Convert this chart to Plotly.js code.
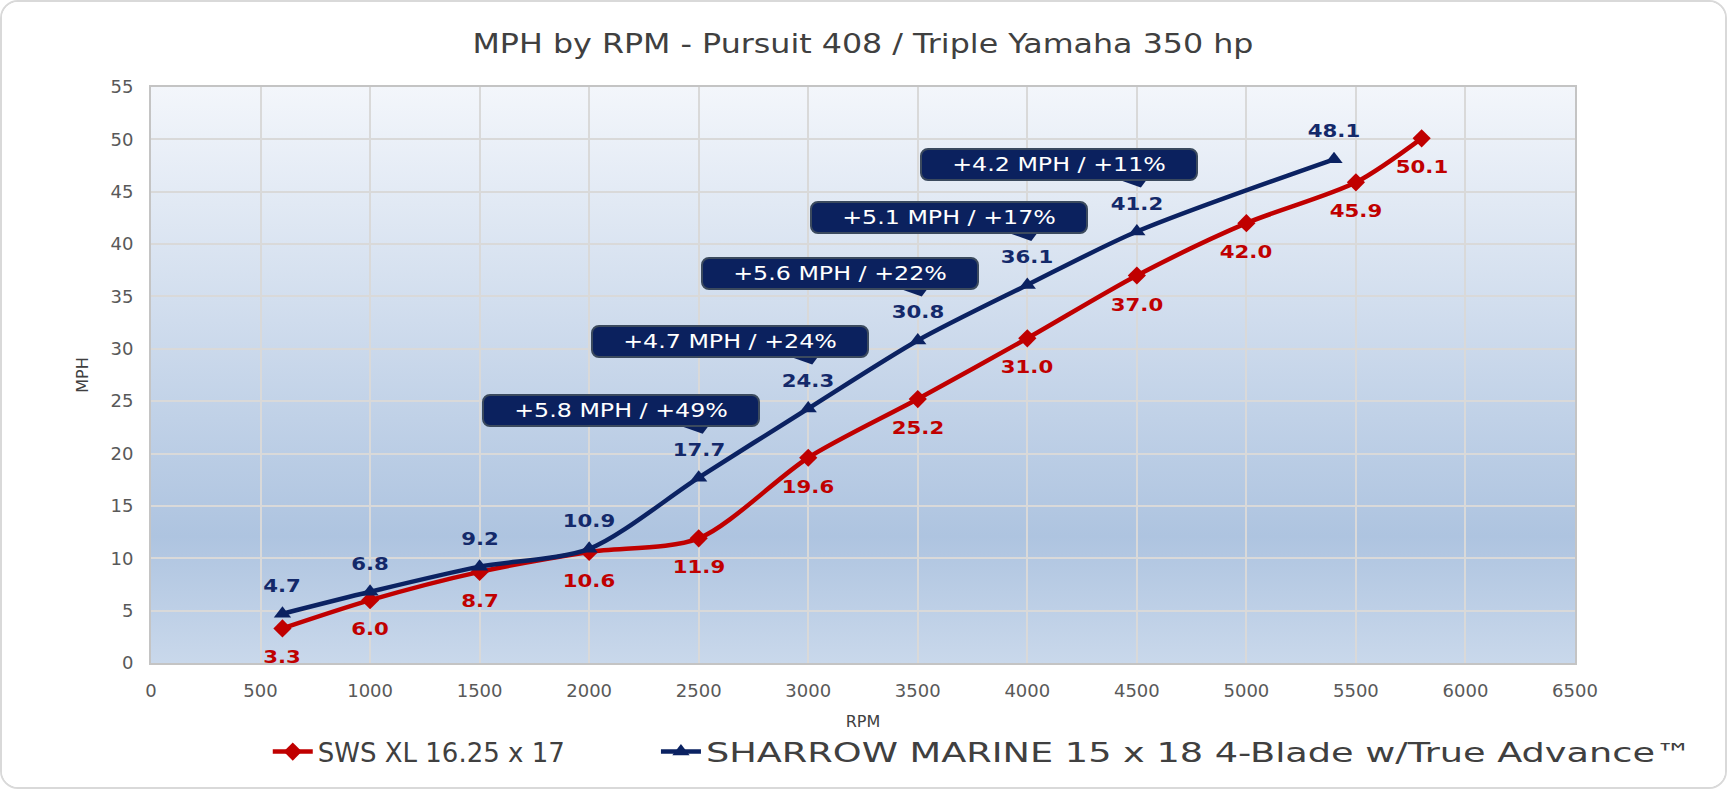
<!DOCTYPE html>
<html>
<head>
<meta charset="utf-8">
<script src="https://cdn.plot.ly/plotly-3.0.1.min.js"></script>
<style>
  html, body { margin: 0; padding: 0; background: #fff; }
  #chart {
    width: 1727px; height: 789px; box-sizing: border-box;
    border: 2px solid #d9d9d9; border-radius: 18px; overflow: hidden;
  }
  /* the source picture has its texts drawn a little wider */
  #chart .gtitle { transform: scaleX(1.22); transform-box: fill-box; transform-origin: center; }
  #chart .annotation-text { transform: scaleX(1.25); transform-box: fill-box; transform-origin: center; }
  #chart .annotation .bg { rx: 7px; ry: 7px; }
</style>
</head>
<body>
<div id="chart"></div>
<script>
// SWS XL 16.25 x 17
const swsRpm = [600, 1000, 1500, 2000, 2500, 3000, 3500, 4000, 4500, 5000, 5500, 5800];
const swsMph = [3.3, 6.0, 8.7, 10.6, 11.9, 19.6, 25.2, 31.0, 37.0, 42.0, 45.9, 50.1];

// SHARROW MARINE 15 x 18
const sharRpm = [600, 1000, 1500, 2000, 2500, 3000, 3500, 4000, 4500, 5400];
const sharMph = [4.7, 6.8, 9.2, 10.9, 17.7, 24.3, 30.8, 36.1, 41.2, 48.1];

// gain callouts, pinned to the sharrow points at these rpm
const calloutRpm = [2500, 3000, 3500, 4000, 4500];
const calloutText = ['+5.8 MPH / +49%', '+4.7 MPH / +24%', '+5.6 MPH / +22%', '+5.1 MPH / +17%', '+4.2 MPH / +11%'];

const RED = '#C00000';
const NAVY = '#0B2262';
const BOX = '#0B215E';
const FONT = 'DejaVu Sans, Verdana, sans-serif';

const sws = {
    x: swsRpm,
    y: swsMph,
    name: 'SWS XL 16.25 x 17',
    type: 'scatter',
    mode: 'lines+markers',
    line: { color: RED, width: 4.5, shape: 'spline', smoothing: 0.8 },
    marker: { symbol: 'diamond', size: 14, color: RED },
    legend: 'legend',
    hoverinfo: 'skip'
};

const sharrow = {
    x: sharRpm,
    y: sharMph,
    name: 'SHARROW MARINE 15 x 18 4-Blade w/True Advance™',
    type: 'scatter',
    mode: 'lines+markers',
    line: { color: NAVY, width: 4.5, shape: 'spline', smoothing: 0.8 },
    marker: { symbol: 'triangle-up', size: 15, color: NAVY },
    legend: 'legend2',
    hoverinfo: 'skip'
};

const annotations = [];
const shapes = [];

// value labels
swsRpm.forEach((r, i) => {
    annotations.push({
        x: r, y: swsMph[i], text: swsMph[i].toFixed(1), showarrow: false,
        yshift: -29, font: { family: FONT, size: 17, color: RED, weight: 'bold' }
    });
});
sharRpm.forEach((r, i) => {
    annotations.push({
        x: r, y: sharMph[i], text: sharMph[i].toFixed(1), showarrow: false,
        yshift: 28, font: { family: FONT, size: 17, color: '#14296A', weight: 'bold' }
    });
});

// callout boxes with a little tail pointing at the point
calloutRpm.forEach((r, i) => {
    const j = sharRpm.indexOf(r);
    annotations.push({
        x: r, y: sharMph[j], text: calloutText[i], showarrow: false,
        xshift: -78, yshift: 67, width: 272, height: 27,
        bgcolor: BOX, bordercolor: '#3B4A5E', borderwidth: 2, borderpad: 1,
        font: { family: FONT, size: 19, color: '#ffffff' }
    });
    shapes.push({
        type: 'path', xref: 'x', yref: 'y',
        xsizemode: 'pixel', ysizemode: 'pixel',
        xanchor: r, yanchor: sharMph[j],
        path: 'M -30,56 L 4,44 L 13,56 Z',
        fillcolor: BOX, line: { width: 0 }, layer: 'above'
    });
});

const bgSvg = '<svg xmlns="http://www.w3.org/2000/svg" width="100" height="100" preserveAspectRatio="none">' +
    '<defs><linearGradient id="g" x1="0" y1="0" x2="0" y2="1">' +
    '<stop offset="0" stop-color="#F3F6FB"/><stop offset="0.78" stop-color="#AEC4E0"/>' +
    '<stop offset="1" stop-color="#C9D8EB"/></linearGradient></defs>' +
    '<rect width="100" height="100" fill="url(#g)"/></svg>';

const legendBase = {
    orientation: 'h',
    xanchor: 'left',
    y: -0.154, yanchor: 'middle',
    font: { family: FONT, size: 26, color: '#404040' },
    itemwidth: 40,
    bgcolor: 'rgba(0,0,0,0)'
};

const layout = {
    width: 1723,
    height: 785,
    margin: { l: 149, r: 150, t: 85, b: 117 },
    paper_bgcolor: '#ffffff',
    plot_bgcolor: 'rgba(0,0,0,0)',
    font: { family: FONT, color: '#595959' },
    title: {
        text: 'MPH by RPM - Pursuit 408 / Triple Yamaha 350 hp',
        font: { family: FONT, size: 26, color: '#404040' },
        x: 0.5, xref: 'paper', y: 0.947, yanchor: 'middle'
    },
    xaxis: {
        range: [0, 6500],
        dtick: 500,
        tick0: 0,
        showgrid: true,
        gridcolor: '#D9D9D9',
        gridwidth: 2,
        zeroline: false,
        showline: true,
        mirror: true,
        linecolor: '#C4C4C4',
        linewidth: 2,
        ticks: '',
        ticklabelstandoff: 10,
        tickfont: { family: FONT, size: 18, color: '#595959' },
        title: { text: 'RPM', font: { family: FONT, size: 16, color: '#404040' }, standoff: 16 },
        automargin: false,
        fixedrange: true
    },
    yaxis: {
        range: [0, 55],
        dtick: 5,
        tick0: 0,
        showgrid: true,
        gridcolor: '#D9D9D9',
        gridwidth: 2,
        zeroline: false,
        showline: true,
        mirror: true,
        linecolor: '#C4C4C4',
        linewidth: 2,
        ticks: '',
        ticklabelstandoff: 12,
        tickfont: { family: FONT, size: 18, color: '#595959' },
        title: { text: 'MPH', font: { family: FONT, size: 16, color: '#404040' }, standoff: 18 },
        automargin: false,
        fixedrange: true
    },
    legend: Object.assign({}, legendBase, { x: 0.082 }),
    legend2: Object.assign({}, legendBase, { x: 0.3546 }),
    images: [{
        source: 'data:image/svg+xml;charset=utf-8,' + encodeURIComponent(bgSvg),
        xref: 'paper', yref: 'paper',
        x: 0, y: 1, sizex: 1, sizey: 1,
        xanchor: 'left', yanchor: 'top',
        sizing: 'stretch', layer: 'below'
    }],
    annotations: annotations,
    shapes: shapes,
    showlegend: true
};

// the long legend entry is drawn wider in the source picture
function widenLegend() {
    document.querySelectorAll('#chart text').forEach(t => {
        if (t.textContent.indexOf('SHARROW') < 0) return;
        const w = t.getComputedTextLength();
        if (!w || t.getAttribute('data-wide')) return;
        t.setAttribute('data-wide', '1');
        t.setAttribute('lengthAdjust', 'spacingAndGlyphs');
        t.setAttribute('textLength', (w * 1.41).toFixed(1));
        let p = t.parentNode;
        while (p && p.id !== 'chart') {
            if (p.removeAttribute) p.removeAttribute('clip-path');
            p = p.parentNode;
        }
    });
}

Plotly.newPlot('chart', [sws, sharrow], layout, { displayModeBar: false, staticPlot: true }).then(() => {
    widenLegend();
    setTimeout(widenLegend, 50);
});
</script>
</body>
</html>
